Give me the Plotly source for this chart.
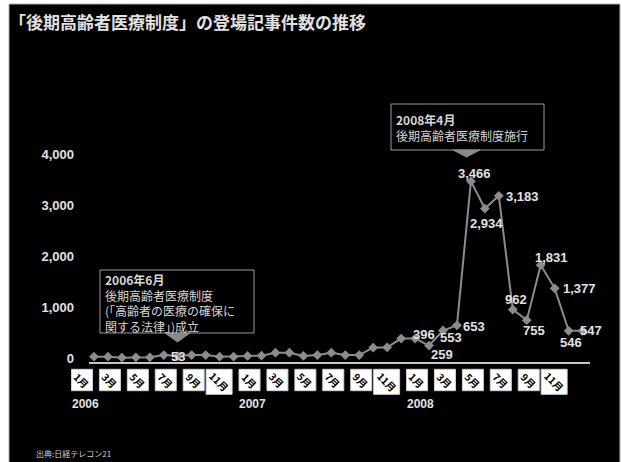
import plotly.graph_objects as go

# ---------------- data ----------------
YEARS = ["2006", "2007", "2008"]
COUNTS_2006 = [41, 41, 21, 29, 29, 74, 53, 74, 74, 41, 41, 55]
COUNTS_2007 = [60, 120, 120, 55, 74, 120, 74, 74, 217, 225, 395, 396]
COUNTS_2008 = [259, 553, 653, 3466, 2934, 3183, 962, 755, 1831, 1377, 546, 547]
TICK_MONTHS = ["1月", "3月", "5月", "7月", "9月", "11月"]
Y_TICKS = [0, 1000, 2000, 3000, 4000]
LABELED = ["2006-7", "2007-12", "2008-1", "2008-2", "2008-3", "2008-4", "2008-5",
           "2008-6", "2008-7", "2008-8", "2008-9", "2008-10", "2008-11", "2008-12"]
TITLE = "「後期高齢者医療制度」の登場記事件数の推移"
NOTE1 = ["<b>2006年6月</b>", "後期高齢者医療制度", "(「高齢者の医療の確保に", "関する法律」)成立"]
NOTE2 = ["<b>2008年4月</b>", "後期高齢者医療制度施行"]
SOURCE = "出典:日経テレコン21"

CATS = [f"{y}-{m}" for y in YEARS for m in range(1, 13)]
VALUES = COUNTS_2006 + COUNTS_2007 + COUNTS_2008

# ---------------- layout geometry ----------------
W, H = 622, 462
L, R, T, B = 89, 32, 40, 100
PW, PH = W - L - R, H - T - B
X0PX, DX = 94.0, 13.96          # pixel of first month, pixels per month
Y0PX, DY = 358.8, 0.0512        # pixel of zero, pixels per unit

def pxx(px):
    return (px - L) / PW

def pxy(py):
    return (H - B - py) / PH

def idx_px(k):
    return X0PX + DX * k

xr = [(L - X0PX) / DX, (W - R - X0PX) / DX]
yr = [-(H - B - Y0PX) / DY, (Y0PX - T) / DY]

CJK = "Noto Sans CJK JP"
NUM = "Liberation Sans, Arial"
LIGHT = "#e2e2e2"
GRAY = "#8c8c8c"

fig = go.Figure()
fig.add_trace(go.Scatter(
    x=CATS, y=VALUES, mode="lines+markers",
    line=dict(color=GRAY, width=2),
    marker=dict(symbol="diamond", size=7.5, color=GRAY),
    hoverinfo="skip", showlegend=False, cliponaxis=False,
))

shapes = []
annotations = []

# black panel
shapes.append(dict(type="rect", xref="paper", yref="paper", layer="below",
                   x0=pxx(9), x1=pxx(620), y0=pxy(463), y1=pxy(4),
                   fillcolor="black", line=dict(color="#b0b0b0", width=1)))

# title & source
annotations.append(dict(xref="paper", yref="paper", x=pxx(7), y=pxy(21),
                        xanchor="left", yanchor="middle", showarrow=False,
                        text=f"<b>{TITLE}</b>",
                        font=dict(family=CJK, size=17, color=LIGHT)))
annotations.append(dict(xref="paper", yref="paper", x=pxx(34), y=pxy(453),
                        xanchor="left", yanchor="middle", showarrow=False,
                        text=SOURCE, font=dict(family=CJK, size=8, color="#cfcfcf")))

# month tick boxes and labels
for k, cat in enumerate(CATS):
    y, m = cat.split("-")
    lab = f"{m}月"
    if lab not in TICK_MONTHS:
        continue
    wide = lab == "11月"
    wpx = 26 if wide else 21
    hpx = 25 if wide else 21.4
    r_px = idx_px(k) - 1.5
    l_px = r_px - wpx
    cx = (l_px + r_px) / 2
    shapes.append(dict(type="rect", xref="paper", yref="paper",
                       x0=pxx(l_px), x1=pxx(r_px), y0=pxy(369.3), y1=pxy(369.3 + hpx),
                       fillcolor="white", line=dict(color="#d0d0d0", width=1)))
    annotations.append(dict(xref="paper", yref="paper", x=pxx(cx),
                            y=pxy(369.3 + hpx / 2), showarrow=False,
                            xanchor="center", yanchor="middle", textangle=45,
                            text=f"<b>{lab}</b>",
                            font=dict(family=CJK, size=10, color="black")))
    if m == "1":
        annotations.append(dict(xref="paper", yref="paper", x=pxx(cx + 3),
                                y=pxy(404), showarrow=False,
                                xanchor="center", yanchor="middle",
                                text=f"<b>{y}</b>",
                                font=dict(family=NUM, size=12, color=LIGHT)))

# data labels (pixel offsets from each point: dx, dy down)
OFFSETS = {
    "2006-7": (0, 0), "2007-12": (8.5, -4), "2008-1": (12.7, 8.5),
    "2008-2": (7.5, 7), "2008-3": (17.5, 1), "2008-4": (3.5, -8),
    "2008-5": (1.5, 15), "2008-6": (24, 1), "2008-7": (3.3, -10),
    "2008-8": (7, 10), "2008-9": (11, -8), "2008-10": (24.5, 0),
    "2008-11": (2, 11.5), "2008-12": (8.5, 0),
}
for cat in LABELED:
    k = CATS.index(cat)
    dx, dy = OFFSETS[cat]
    annotations.append(dict(xref="x", yref="y", x=k, y=VALUES[k], showarrow=False,
                            xanchor="center", yanchor="middle",
                            xshift=dx, yshift=-dy,
                            text=f"<b>{VALUES[k]:,}</b>",
                            font=dict(family=NUM, size=13, color=LIGHT)))

# callouts
def callout(lines, left, top, right, bottom, tip_x, tip_w, tip_h):
    shapes.append(dict(type="rect", xref="paper", yref="paper",
                       x0=pxx(left), x1=pxx(right), y0=pxy(bottom), y1=pxy(top),
                       fillcolor="black", line=dict(color="#9a9a9a", width=1)))
    annotations.append(dict(xref="paper", yref="paper", x=pxx(left + 4),
                            y=pxy((top + bottom) / 2 + 1),
                            xanchor="left", yanchor="middle", showarrow=False,
                            text="<br>".join(lines), align="left", borderpad=0,
                            font=dict(family=CJK, size=12, color="#d6d6d6")))
    path = (f"M {pxx(tip_x - tip_w / 2)},{pxy(bottom)} "
            f"L {pxx(tip_x + tip_w / 2)},{pxy(bottom)} "
            f"L {pxx(tip_x)},{pxy(bottom + tip_h)} Z")
    shapes.append(dict(type="path", xref="paper", yref="paper", path=path,
                       fillcolor="#8a8a8a", line=dict(color="#8a8a8a", width=1)))

callout(NOTE1, 100, 270, 254, 333, 177.5, 25, 9)
callout(NOTE2, 391, 104, 544, 150, 466.5, 27, 7)

fig.update_layout(
    width=W, height=H, margin=dict(l=L, r=R, t=T, b=B, pad=0),
    paper_bgcolor="white", plot_bgcolor="black",
    shapes=shapes, annotations=annotations, showlegend=False,
    xaxis=dict(type="category", range=xr, showgrid=False, zeroline=False,
               showticklabels=False, ticks="", showline=True,
               linecolor="#c4c4c4", linewidth=2, fixedrange=True),
    yaxis=dict(range=yr, showgrid=False, zeroline=False, showline=False,
               tickvals=Y_TICKS, ticktext=[f"<b>{v:,}</b>" for v in Y_TICKS],
               ticks="", ticklabelstandoff=14,
               tickfont=dict(family=NUM, size=13, color=LIGHT), fixedrange=True),
)

fig.write_html("out.html")
